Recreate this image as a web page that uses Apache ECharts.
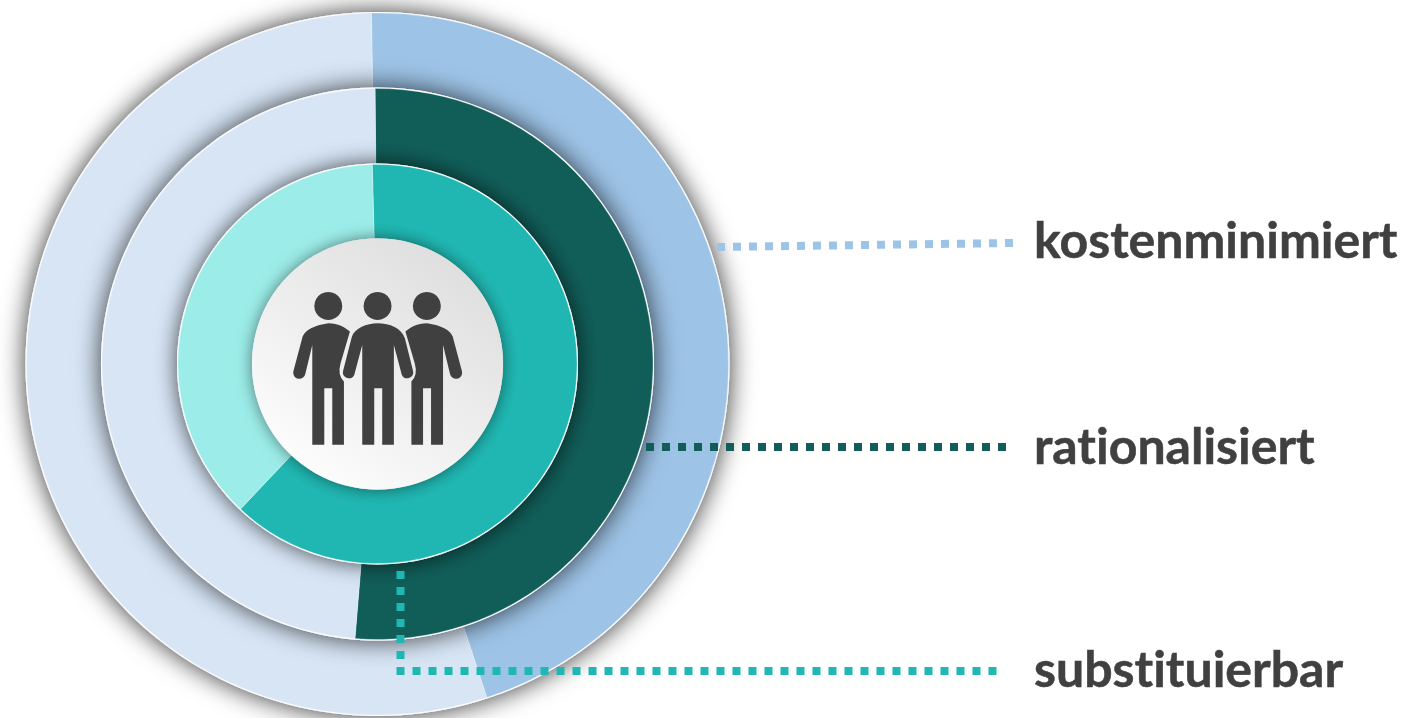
<!DOCTYPE html>
<html>
<head>
<meta charset="utf-8">
<style>html,body{margin:0;padding:0;background:#fff}#chart{width:1419px;height:718px}#chart text{font-variant-ligatures:none !important}</style>
<script src="https://cdn.jsdelivr.net/npm/echarts@6/dist/echarts.min.js"></script>
</head>
<body>
<div id="chart"></div>
<script>
// Share of each ring: highlighted part, remainder
const ringNames = ['kostenminimiert', 'rationalisiert', 'substituierbar'];
const outerValues = [45.24, 54.76];
const middleValues = [51.44, 48.56];
const innerValues = [62.46, 37.54];
const startAngles = [91, 90.5, 91.5];
const ringColors = [['#9DC3E6', '#D7E5F5'], ['#115E59', '#D7E5F5'], ['#20B7B2', '#9CEDE9']];
const ringRadii = [352, 276.5, 200.5, 125.5];

const center = [377.5, 364];
const textColor = '#404040';

function disc(radius, z, fill, blur, alpha) {
  return {
    type: 'pie', silent: true, z, center, radius: [0, radius], label: { show: false },
    emphasis: { disabled: true }, animation: false,
    data: [{ value: 1, itemStyle: {
      color: fill, shadowBlur: blur, shadowColor: 'rgba(0,0,0,' + alpha + ')'
    } }]
  };
}

function ring(index, values, z) {
  return {
    type: 'pie', silent: true, z, center, name: ringNames[index],
    radius: [ringRadii[index + 1], ringRadii[index] - 1],
    startAngle: startAngles[index], label: { show: false }, labelLine: { show: false },
    emphasis: { disabled: true }, animation: false,
    itemStyle: { borderWidth: 0.5, borderColor: 'rgba(255,255,255,0.5)' },
    data: values.map((value, i) => ({ value, itemStyle: { color: ringColors[index][i] } }))
  };
}

// Pictogram outlines, drawn on a 3x grid and scaled down
const sidePerson = 'M175 160C205 160 225 172 240 185L212 280Q202 315 222 335L222 525L187 525L187 355L163 355L163 525L127 525L127 225L106 312A18 18 0 0 1 70 305L98 200Q110 170 175 160Z';
const middlePerson = 'M323 160C360 160 395 175 405 205L430 305A18 18 0 0 1 396 315L372 225L372 525L337 525L337 355L313 355L313 525L277 525L277 225L253 315A18 18 0 0 1 219 305L246 200C255 175 290 160 323 160Z';

// The three figures in the centre disc
function renderPeople() {
  const fill = { fill: textColor };
  const heads = [175, 323, 471].map(cx => ({
    type: 'circle', shape: { cx, cy: 108, r: 42 }, style: fill
  }));
  return {
    type: 'group', x: 270, y: 270, scaleX: 1 / 3, scaleY: 1 / 3, silent: true,
    children: heads.concat([
      { type: 'path', shape: { pathData: sidePerson }, style: fill },
      { type: 'path', shape: { pathData: middlePerson }, style: fill },
      { type: 'path', x: 646, scaleX: -1, shape: { pathData: sidePerson }, style: fill }
    ])
  };
}

function leader(points, color) {
  return {
    type: 'polyline', z: 15, silent: true,
    shape: { points },
    style: { stroke: color, fill: null, lineWidth: 8, lineDash: [8, 8], lineCap: 'butt', lineJoin: 'miter' }
  };
}

function caption(name, y) {
  return {
    type: 'text', x: 1034, y, z: 15, silent: true,
    style: { text: name, fill: textColor, font: 'bold 50px Lato', verticalAlign: 'middle',
      stroke: textColor, lineWidth: 0.5 }
  };
}

const chart = echarts.init(document.getElementById('chart'), null, { renderer: 'svg' });
chart.setOption({
  animation: false,
  backgroundColor: '#fff',
  series: [
    disc(ringRadii[0], 1, '#fff', 26, 0.8),
    ring(0, outerValues, 2),
    disc(ringRadii[1], 3, '#fff', 26, 0.75),
    ring(1, middleValues, 4),
    disc(ringRadii[2], 5, '#fff', 22, 0.7),
    ring(2, innerValues, 6),
    disc(ringRadii[3], 7, new echarts.graphic.LinearGradient(0.15, 1, 0.85, 0, [
      { offset: 0, color: '#ffffff' }, { offset: 1, color: '#dcdcdc' }
    ]), 16, 0.5),
    { type: 'custom', coordinateSystem: 'none', z: 20, silent: true, data: [0], renderItem: renderPeople }
  ],
  graphic: [
    leader([[717, 247], [1013, 243]], ringColors[0][0]),
    leader([[646, 447], [1006, 447]], ringColors[1][0]),
    leader([[400.5, 571], [400.5, 671], [997, 671]], ringColors[2][0]),
    caption(ringNames[0], 239),
    caption(ringNames[1], 444.5),
    caption(ringNames[2], 668)
  ]
});
</script>
</body>
</html>
